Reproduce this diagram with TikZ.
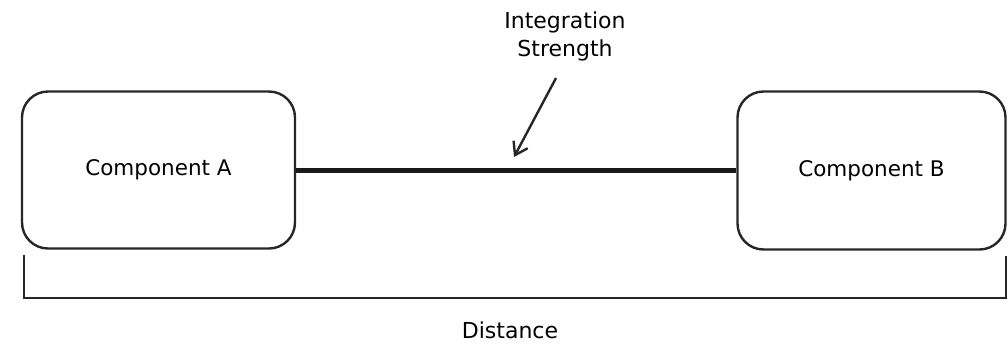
\documentclass[tikz,border=0pt]{standalone}
\usepackage{fontspec}
\setmainfont{DejaVu Sans}
\usetikzlibrary{arrows.meta}
\begin{document}
\begin{tikzpicture}[x=1pt,y=-1pt,
  comp/.style={draw=black!85, line width=2.4pt, rounded corners=26pt, minimum width=273pt, minimum height=157pt, font=\fontsize{21.5}{26}\selectfont, inner sep=0pt},
  lbl/.style={font=\fontsize{22}{28}\selectfont, align=center, inner sep=0pt},
  link/.style={draw=black!90, line width=5pt},
  brk/.style={draw=black!85, line width=2.6pt},
  ptr/.style={draw=black!85, line width=2.4pt, -{Straight Barb[length=12pt,width=16pt,line width=2.4pt]}}]
\useasboundingbox (0,0) rectangle (1008,346);
\node[comp] (A) at (158.5,170) {Component A};
\node[comp, minimum width=268pt, minimum height=158pt] (B) at (871.5,170.5) {Component B};
\draw[link] (A.east) -- (A.east -| B.west);
\node[lbl] (IS) at (565,36) {Integration\\Strength};
\coordinate (tail) at (556,78);
\coordinate (head) at (514,157);
\draw[ptr] (tail) -- (head);
\coordinate (bl) at (24,255);
\coordinate (blc) at (24,298);
\coordinate (brc) at (1006,298);
\coordinate (br) at (1006,256);
\draw[brk] (bl) -- (blc) -- (brc) -- (br);
\node[lbl] (D) at (510,330) {Distance};
\end{tikzpicture}
\end{document}
